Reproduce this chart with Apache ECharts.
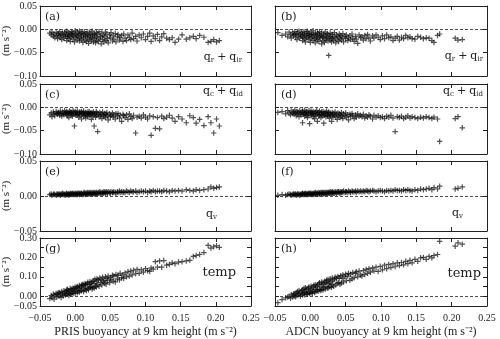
<!DOCTYPE html>
<html lang="en">
<head>
  <meta charset="UTF-8">
  <title>Buoyancy components</title>
  <script src="https://cdn.jsdelivr.net/npm/echarts@6.0.0/dist/echarts.min.js"></script>
  <style>body{margin:0;background:#fff;}</style>
</head>
<body>
  <div id="main" style="width:500px;height:339px;"></div>
  <script type="text/javascript">
    // PRIS buoyancy at 9 km (x of left column)
    const prisX = [
      -0.036,-0.034,-0.033,-0.031,-0.030,-0.029,-0.027,-0.026,-0.025,-0.024,
      -0.023,-0.022,-0.021,-0.020,-0.019,-0.018,-0.017,-0.016,-0.015,-0.014,
      -0.013,-0.012,-0.012,-0.011,-0.010,-0.009,-0.009,-0.008,-0.007,-0.006,
      -0.006,-0.005,-0.004,-0.003,-0.003,-0.002,-0.001,0.000,0.000,0.001,
      0.002,0.003,0.003,0.004,0.005,0.006,0.006,0.007,0.008,0.009,
      0.009,0.010,0.011,0.012,0.012,0.013,0.014,0.015,0.015,0.016,
      0.017,0.018,0.018,0.019,0.020,0.021,0.021,0.022,0.023,0.024,
      0.024,0.025,0.026,0.027,0.027,0.028,0.029,0.030,0.030,0.031,
      0.032,0.033,0.034,0.035,0.036,0.037,0.038,0.039,0.040,0.041,
      0.042,0.043,0.044,0.045,0.046,0.047,0.049,0.050,0.051,0.053,
      0.054,0.055,0.057,0.058,0.060,0.061,0.063,0.064,0.066,0.068,
      0.069,0.071,0.073,0.075,0.077,0.079,0.081,0.083,0.086,0.088,
      0.091,0.094,0.097,0.100,0.103,0.106,0.108,0.111,0.114,0.117,
      0.120,0.123,0.126,0.130,0.134,0.138,0.142,0.147,0.152,0.158,
      0.163,0.168,0.172,0.177,0.183,0.189,0.193,0.197,0.201,0.205
    ];
    // (a) qr + qir
    const prisRain = [
      -0.008,-0.012,-0.006,-0.015,-0.010,-0.018,-0.007,-0.013,-0.020,-0.009,
      -0.014,-0.005,-0.017,-0.011,-0.022,-0.008,-0.013,-0.019,-0.006,-0.015,
      -0.010,-0.024,-0.004,-0.016,-0.012,-0.020,-0.007,-0.014,-0.026,-0.009,
      -0.017,-0.005,-0.012,-0.021,-0.008,-0.015,-0.027,-0.010,-0.003,-0.018,
      -0.013,-0.023,-0.006,-0.016,-0.011,-0.025,-0.004,-0.019,-0.009,-0.014,
      -0.021,-0.007,-0.028,-0.012,-0.017,-0.005,-0.023,-0.010,-0.015,-0.026,
      -0.008,-0.019,-0.013,-0.030,-0.006,-0.016,-0.022,-0.011,-0.025,-0.004,
      -0.018,-0.012,-0.027,-0.009,-0.020,-0.014,-0.029,-0.007,-0.017,-0.023,
      -0.011,-0.026,-0.005,-0.019,-0.015,-0.031,-0.008,-0.022,-0.013,-0.027,
      -0.016,-0.006,-0.024,-0.010,-0.020,-0.029,-0.012,-0.018,-0.007,-0.025,
      -0.014,-0.021,-0.009,-0.027,-0.016,-0.011,-0.023,-0.018,-0.013,-0.026,
      -0.010,-0.019,-0.024,-0.012,-0.017,-0.022,-0.008,-0.020,-0.015,-0.025,
      -0.012,-0.018,-0.010,-0.022,-0.015,-0.008,-0.026,-0.014,-0.020,-0.011,
      -0.024,-0.016,-0.009,-0.019,-0.022,-0.018,-0.028,-0.021,-0.012,-0.021,
      -0.018,-0.015,-0.020,-0.013,-0.017,-0.028,-0.026,-0.022,-0.027,-0.024
    ];
    // (c) qc + qid
    const prisCloud = [
      -0.016,-0.012,-0.020,-0.010,-0.014,-0.018,-0.009,-0.013,-0.015,-0.011,
      -0.012,-0.017,-0.008,-0.014,-0.019,-0.010,-0.013,-0.016,-0.007,-0.012,
      -0.015,-0.009,-0.013,-0.018,-0.011,-0.014,-0.022,-0.008,-0.012,-0.016,
      -0.010,-0.013,-0.019,-0.007,-0.015,-0.011,-0.040,-0.014,-0.009,-0.017,
      -0.012,-0.008,-0.016,-0.013,-0.021,-0.010,-0.014,-0.018,-0.011,-0.025,
      -0.009,-0.015,-0.012,-0.019,-0.008,-0.014,-0.017,-0.011,-0.023,-0.013,
      -0.016,-0.010,-0.020,-0.013,-0.009,-0.018,-0.015,-0.012,-0.026,-0.011,
      -0.014,-0.019,-0.010,-0.040,-0.016,-0.013,-0.021,-0.009,-0.017,-0.012,
      -0.052,-0.015,-0.020,-0.011,-0.018,-0.014,-0.024,-0.010,-0.016,-0.019,
      -0.013,-0.022,-0.015,-0.011,-0.018,-0.027,-0.014,-0.020,-0.017,-0.012,
      -0.021,-0.016,-0.025,-0.014,-0.019,-0.013,-0.023,-0.017,-0.030,-0.015,
      -0.018,-0.022,-0.016,-0.026,-0.014,-0.020,-0.024,-0.017,-0.055,-0.021,
      -0.019,-0.023,-0.016,-0.021,-0.025,-0.018,-0.060,-0.020,-0.045,-0.022,
      -0.046,-0.019,-0.024,-0.021,-0.017,-0.023,-0.030,-0.020,-0.025,-0.033,
      -0.018,-0.022,-0.034,-0.026,-0.039,-0.020,-0.033,-0.055,-0.025,-0.040
    ];
    // (e) qv
    const prisVapor = [
      0.002,0.003,0.001,0.002,0.003,0.002,0.001,0.003,0.002,0.002,
      0.003,0.002,0.001,0.003,0.002,0.004,0.002,0.003,0.002,0.001,
      0.003,0.002,0.004,0.002,0.003,0.001,0.003,0.002,0.004,0.003,
      0.002,0.003,0.004,0.002,0.003,0.003,0.002,0.004,0.003,0.002,
      0.003,0.004,0.002,0.003,0.004,0.003,0.002,0.004,0.003,0.003,
      0.004,0.003,0.002,0.004,0.003,0.005,0.003,0.004,0.002,0.004,
      0.003,0.004,0.005,0.003,0.004,0.003,0.005,0.004,0.003,0.004,
      0.005,0.003,0.004,0.004,0.005,0.003,0.004,0.005,0.004,0.003,
      0.004,0.005,0.004,0.006,0.004,0.005,0.003,0.005,0.004,0.006,
      0.005,0.004,0.006,0.005,0.004,0.006,0.005,0.004,0.006,0.005,
      0.005,0.006,0.005,0.004,0.006,0.005,0.007,0.005,0.006,0.005,
      0.006,0.005,0.007,0.006,0.005,0.007,0.006,0.006,0.007,0.005,
      0.006,0.007,0.006,0.007,0.005,0.007,0.006,0.008,0.006,0.007,
      0.007,0.006,0.008,0.007,0.006,0.008,0.007,0.008,0.007,0.009,
      0.008,0.007,0.009,0.008,0.009,0.010,0.013,0.011,0.012,0.013
    ];
    // (g) temp
    const prisTemp = [
      -0.012,0.004,-0.008,0.010,-0.015,0.006,0.014,-0.004,0.010,0.018,
      0.000,0.020,0.008,-0.006,0.024,0.012,0.002,0.028,0.016,0.006,
      0.024,0.032,0.010,0.036,0.018,0.004,0.030,0.014,0.040,0.022,
      0.010,0.036,0.022,0.042,0.014,0.038,0.026,0.048,0.016,0.032,
      0.044,0.018,0.050,0.026,0.040,0.056,0.022,0.046,0.030,0.058,
      0.028,0.052,0.062,0.024,0.056,0.036,0.066,0.042,0.060,0.030,
      0.064,0.040,0.072,0.034,0.060,0.046,0.076,0.050,0.068,0.038,
      0.074,0.046,0.080,0.042,0.066,0.088,0.052,0.078,0.048,0.090,
      0.060,0.084,0.052,0.094,0.070,0.088,0.058,0.098,0.074,0.082,
      0.066,0.100,0.062,0.092,0.080,0.104,0.070,0.096,0.086,0.108,
      0.078,0.104,0.074,0.112,0.090,0.108,0.084,0.118,0.096,0.110,
      0.092,0.120,0.100,0.126,0.104,0.130,0.110,0.134,0.116,0.138,
      0.118,0.136,0.124,0.142,0.132,0.128,0.146,0.140,0.178,0.150,
      0.182,0.150,0.184,0.160,0.164,0.172,0.168,0.176,0.178,0.182,
      0.185,0.205,0.210,0.215,0.225,0.262,0.248,0.255,0.260,0.252
    ];

    // ADCN buoyancy at 9 km (x of right column)
    const adcnX = [
      -0.046,-0.040,-0.035,-0.032,-0.030,-0.028,-0.027,-0.025,-0.024,-0.023,
      -0.022,-0.021,-0.020,-0.019,-0.018,-0.017,-0.016,-0.015,-0.014,-0.013,
      -0.012,-0.011,-0.011,-0.010,-0.009,-0.008,-0.008,-0.007,-0.006,-0.005,
      -0.005,-0.004,-0.003,-0.002,-0.002,-0.001,0.000,0.001,0.001,0.002,
      0.003,0.004,0.004,0.005,0.006,0.007,0.007,0.008,0.009,0.010,
      0.010,0.011,0.012,0.013,0.013,0.014,0.015,0.016,0.016,0.017,
      0.018,0.019,0.019,0.020,0.021,0.022,0.022,0.023,0.024,0.025,
      0.025,0.026,0.027,0.028,0.028,0.029,0.030,0.031,0.031,0.032,
      0.033,0.034,0.035,0.036,0.037,0.038,0.039,0.040,0.041,0.042,
      0.043,0.044,0.045,0.046,0.047,0.049,0.050,0.051,0.053,0.054,
      0.056,0.057,0.059,0.060,0.062,0.064,0.065,0.067,0.069,0.071,
      0.073,0.075,0.077,0.079,0.081,0.083,0.085,0.088,0.090,0.093,
      0.096,0.099,0.102,0.105,0.108,0.111,0.114,0.117,0.120,0.123,
      0.126,0.129,0.132,0.135,0.138,0.141,0.144,0.148,0.152,0.156,
      0.160,0.164,0.168,0.172,0.175,0.180,0.183,0.205,0.209,0.215
    ];
    // (b) qr + qir
    const adcnRain = [
      -0.007,-0.013,-0.010,-0.016,-0.006,-0.012,-0.019,-0.008,-0.014,-0.011,
      -0.005,-0.017,-0.010,-0.022,-0.008,-0.014,-0.004,-0.019,-0.011,-0.015,
      -0.007,-0.024,-0.012,-0.017,-0.005,-0.020,-0.010,-0.027,-0.013,-0.008,
      -0.018,-0.004,-0.015,-0.022,-0.009,-0.013,-0.028,-0.006,-0.019,-0.011,
      -0.016,-0.024,-0.003,-0.012,-0.020,-0.009,-0.029,-0.014,-0.018,-0.007,
      -0.022,-0.011,-0.026,-0.015,-0.005,-0.019,-0.013,-0.031,-0.008,-0.017,
      -0.024,-0.010,-0.016,-0.028,-0.006,-0.021,-0.014,-0.019,-0.009,-0.025,
      -0.012,-0.056,-0.018,-0.023,-0.008,-0.015,-0.027,-0.011,-0.020,-0.016,
      -0.024,-0.007,-0.018,-0.029,-0.012,-0.021,-0.015,-0.026,-0.010,-0.019,
      -0.013,-0.023,-0.017,-0.009,-0.027,-0.015,-0.020,-0.012,-0.024,-0.018,
      -0.014,-0.022,-0.010,-0.019,-0.026,-0.015,-0.021,-0.030,-0.012,-0.018,
      -0.016,-0.023,-0.013,-0.020,-0.011,-0.018,-0.025,-0.014,-0.019,-0.012,
      -0.017,-0.022,-0.014,-0.020,-0.012,-0.018,-0.016,-0.024,-0.019,-0.015,
      -0.023,-0.017,-0.020,-0.013,-0.018,-0.016,-0.020,-0.021,-0.015,-0.017,
      -0.020,-0.018,-0.019,-0.024,-0.028,-0.013,-0.010,-0.019,-0.023,-0.022
    ];
    // (d) qc + qid
    const adcnCloud = [
      -0.011,-0.009,-0.014,-0.007,-0.012,-0.016,-0.008,-0.013,-0.010,-0.015,
      -0.006,-0.012,-0.018,-0.009,-0.014,-0.011,-0.020,-0.007,-0.013,-0.016,
      -0.010,-0.033,-0.008,-0.015,-0.012,-0.019,-0.006,-0.014,-0.011,-0.017,
      -0.009,-0.022,-0.013,-0.007,-0.016,-0.035,-0.011,-0.018,-0.008,-0.014,
      -0.012,-0.020,-0.009,-0.015,-0.024,-0.010,-0.013,-0.017,-0.007,-0.030,
      -0.014,-0.011,-0.019,-0.008,-0.016,-0.012,-0.022,-0.010,-0.015,-0.018,
      -0.009,-0.034,-0.013,-0.017,-0.011,-0.020,-0.014,-0.008,-0.016,-0.012,
      -0.019,-0.010,-0.023,-0.015,-0.012,-0.018,-0.030,-0.011,-0.016,-0.021,
      -0.013,-0.017,-0.010,-0.020,-0.015,-0.026,-0.012,-0.018,-0.014,-0.022,
      -0.016,-0.011,-0.019,-0.024,-0.014,-0.018,-0.012,-0.021,-0.016,-0.027,
      -0.015,-0.020,-0.013,-0.018,-0.024,-0.016,-0.021,-0.014,-0.019,-0.017,
      -0.020,-0.015,-0.023,-0.018,-0.021,-0.016,-0.019,-0.025,-0.017,-0.021,
      -0.018,-0.022,-0.020,-0.024,-0.019,-0.021,-0.017,-0.023,-0.052,-0.020,
      -0.022,-0.019,-0.024,-0.021,-0.018,-0.023,-0.020,-0.022,-0.024,-0.021,
      -0.023,-0.020,-0.022,-0.024,-0.021,-0.025,-0.073,-0.024,-0.020,-0.044
    ];
    // (f) qv
    const adcnVapor = [
      0.001,0.002,0.001,0.002,0.003,0.002,0.001,0.002,0.003,0.002,
      0.002,0.003,0.001,0.002,0.003,0.002,0.003,0.001,0.002,0.003,
      0.002,0.003,0.004,0.002,0.003,0.002,0.003,0.004,0.002,0.003,
      0.003,0.002,0.004,0.003,0.002,0.004,0.003,0.003,0.004,0.002,
      0.003,0.004,0.003,0.002,0.004,0.003,0.005,0.003,0.004,0.003,
      0.004,0.003,0.005,0.004,0.003,0.004,0.005,0.003,0.004,0.005,
      0.004,0.003,0.005,0.004,0.005,0.003,0.004,0.005,0.004,0.005,
      0.004,0.005,0.004,0.006,0.004,0.005,0.004,0.006,0.005,0.004,
      0.005,0.004,0.006,0.005,0.004,0.006,0.005,0.006,0.005,0.004,
      0.006,0.005,0.006,0.005,0.007,0.005,0.006,0.006,0.005,0.007,
      0.006,0.005,0.007,0.006,0.006,0.007,0.005,0.007,0.006,0.007,
      0.006,0.007,0.006,0.008,0.007,0.006,0.007,0.008,0.007,0.006,
      0.007,0.008,0.007,0.006,0.008,0.007,0.008,0.007,0.009,0.008,
      0.008,0.007,0.009,0.008,0.009,0.008,0.007,0.009,0.008,0.010,
      0.009,0.010,0.011,0.009,0.012,0.010,0.014,0.010,0.011,0.013
    ];
    // (h) temp
    const adcnTemp = [
      -0.033,-0.017,-0.008,-0.004,0.000,-0.010,0.008,-0.004,0.012,0.002,
      0.014,-0.002,0.020,0.004,0.024,0.008,0.028,0.012,0.000,0.018,
      0.030,0.006,0.034,0.014,0.040,0.020,0.008,0.044,0.024,0.012,
      0.036,0.010,0.042,0.020,0.048,0.014,0.030,0.052,0.018,0.038,
      0.016,0.046,0.026,0.056,0.020,0.036,0.060,0.024,0.050,0.032,
      0.058,0.026,0.064,0.036,0.070,0.030,0.048,0.074,0.034,0.060,
      0.032,0.066,0.044,0.078,0.038,0.072,0.050,0.082,0.042,0.064,
      0.086,0.044,0.068,0.090,0.050,0.076,0.046,0.094,0.060,0.080,
      0.052,0.088,0.098,0.058,0.092,0.066,0.102,0.070,0.094,0.062,
      0.106,0.068,0.092,0.110,0.074,0.100,0.114,0.080,0.104,0.118,
      0.082,0.114,0.090,0.122,0.096,0.118,0.126,0.100,0.130,0.110,
      0.104,0.132,0.112,0.138,0.118,0.142,0.124,0.146,0.130,0.150,
      0.128,0.154,0.136,0.160,0.142,0.164,0.148,0.168,0.152,0.172,
      0.158,0.174,0.162,0.180,0.168,0.185,0.172,0.190,0.180,0.198,
      0.200,0.190,0.205,0.198,0.210,0.215,0.283,0.258,0.275,0.268
    ];

    const xTitles = ['PRIS buoyancy at 9 km height (m s\u207B\u00B2)', 'ADCN buoyancy at 9 km height (m s\u207B\u00B2)'];
    const panelLetters = [['(a)', '(c)', '(e)', '(g)'], ['(b)', '(d)', '(f)', '(h)']];
    const columns = [
      { x: prisX, ys: [prisRain, prisCloud, prisVapor, prisTemp] },
      { x: adcnX, ys: [adcnRain, adcnCloud, adcnVapor, adcnTemp] }
    ];
    const yRanges = [[-0.10, 0.05], [-0.10, 0.05], [-0.05, 0.05], [-0.05, 0.30]];
    // labelled y values per row; split in groups so close labels are not dropped
    const yLabelGroups = [
      [[-0.10, -0.05, 0.00, 0.05]],
      [[-0.10, -0.05, 0.00, 0.05]],
      [[-0.05, 0.00, 0.05]],
      [[0.00, 0.10, 0.20, 0.30], [-0.05]]
    ];

    const tickFont = 'Liberation Serif';
    const labelFont = 'DejaVu Serif';
    const colLeft = [39, 275];
    const colWidth = 212;
    const rowTop = [6, 84, 161, 238];
    const rowHeight = [70, 70, 70, 68];

    const fmt = v => (v < -1e-9 ? '\u2212' : '') + Math.abs(v).toFixed(2);

    const grids = [], xAxes = [], yAxes = [], series = [], graphics = [];
    const tickStyle = { show: true, inside: true, length: 4, lineStyle: { color: '#222', width: 1 } };
    const frameLine = { show: true, onZero: false, lineStyle: { color: '#222', width: 1 } };

    for (let c = 0; c < 2; c++) {
      for (let r = 0; r < 4; r++) {
        const g = grids.length;
        grids.push({
          left: colLeft[c], top: rowTop[r], width: colWidth, height: rowHeight[r],
          show: false
        });
        const bottom = r === 3;
        const xBase = { type: 'value', gridIndex: g, min: -0.05, max: 0.25, interval: 0.05,
          splitLine: { show: false }, axisLine: frameLine, axisTick: tickStyle };
        const xIndex = xAxes.length;
        xAxes.push(Object.assign({}, xBase, {
          position: 'bottom',
          axisLabel: { show: bottom, formatter: fmt, fontFamily: tickFont, fontSize: 10, color: '#222', margin: 7,
            showMinLabel: true, showMaxLabel: true },
          name: bottom ? xTitles[c] : '', nameLocation: 'middle', nameGap: 20,
          nameTextStyle: { fontFamily: tickFont, fontSize: 12, color: '#222' }
        }));
        xAxes.push(Object.assign({}, xBase, { position: 'top', axisLabel: { show: false } }));

        const [ymin, ymax] = yRanges[r];
        const yBase = { type: 'value', gridIndex: g, min: ymin, max: ymax, interval: 0.05,
          splitLine: { show: false }, axisLine: frameLine, axisTick: tickStyle };
        const yIndex = yAxes.length;
        yAxes.push(Object.assign({}, yBase, {
          position: 'left', axisLabel: { show: false },
          name: c === 0 ? '(m s\u207B\u00B2)' : '', nameLocation: 'middle', nameRotate: 90, nameGap: 28,
          nameTextStyle: { fontFamily: tickFont, fontSize: 11, color: '#222' }
        }));
        yAxes.push(Object.assign({}, yBase, { position: 'right', axisLabel: { show: false } }));
        if (c === 0) {
          yLabelGroups[r].forEach(vals => {
            yAxes.push({
              type: 'value', gridIndex: g, min: ymin, max: ymax, position: 'left',
              splitLine: { show: false }, axisLine: { show: false, onZero: false }, axisTick: { show: false },
              axisLabel: { customValues: vals, formatter: fmt, fontFamily: tickFont, fontSize: 10,
                color: '#222', margin: 3, showMinLabel: true, showMaxLabel: true }
            });
          });
        }

        const xs = columns[c].x, ys = columns[c].ys[r];
        series.push({
          type: 'scatter', xAxisIndex: xIndex, yAxisIndex: yIndex,
          symbol: 'path://M0,5L10,5M5,0L5,10', symbolSize: 5.5,
          itemStyle: { color: 'rgba(0,0,0,0)', borderColor: 'rgba(0,0,0,0.85)', borderWidth: 1.2 },
          emphasis: { disabled: true },
          data: xs.map((x, i) => [x, ys[i]]),
          markLine: {
            silent: true, symbol: 'none', label: { show: false },
            lineStyle: { type: [3, 2], color: '#222', width: 0.8 },
            data: [{ yAxis: 0 }]
          }
        });

        graphics.push({
          type: 'text', x: colLeft[c] + 6, y: rowTop[r] + 11,
          style: { text: panelLetters[c][r], font: '11px "' + labelFont + '"', fill: '#222', verticalAlign: 'middle' }
        });
      }
    }

    // component labels (right aligned, positioned per panel)
    const rich = {
      m: { fontFamily: labelFont, fontSize: 11, color: '#222' },
      t: { fontFamily: labelFont, fontSize: 13, color: '#222' },
      p: { fontFamily: labelFont, fontSize: 11, color: '#222', padding: [0, 3, 0, 3] },
      s: { fontFamily: labelFont, fontSize: 7, color: '#222', padding: [6, 0, 0, 0] }
    };
    const compText = ['{m|q}{s|r}{p|+}{m|q}{s|ir}', '{m|q}{s|c}{p|+}{m|q}{s|id}', '{m|q}{s|v}', '{t|temp}'];
    const compPos = [
      [[242, 57], [243, 91], [217, 214], [236, 273]],
      [[483, 56], [483, 91], [463, 213], [481, 274]]
    ];
    for (let c = 0; c < 2; c++) {
      for (let r = 0; r < 4; r++) {
        graphics.push({
          type: 'text', x: compPos[c][r][0], y: compPos[c][r][1],
          style: { text: compText[r], rich: rich, align: 'right', verticalAlign: 'middle', fill: '#222' }
        });
      }
    }

    const chart = echarts.init(document.getElementById('main'));
    chart.setOption({
      animation: false,
      grid: grids,
      xAxis: xAxes,
      yAxis: yAxes,
      series: series,
      graphic: graphics
    });
  </script>
</body>
</html>
